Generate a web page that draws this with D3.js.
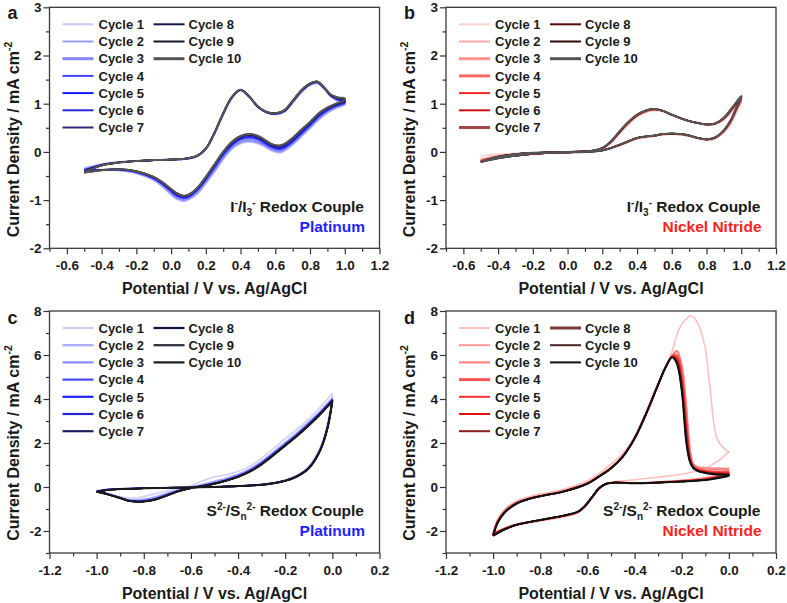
<!DOCTYPE html>
<html><head><meta charset="utf-8">
<script src="https://cdn.jsdelivr.net/npm/d3@7"></script>
<style>
body{margin:0;background:#fff}
svg{display:block}
text{font-family:"Liberation Sans",Arial,sans-serif;font-weight:bold;fill:#1a1a1a}
</style>
</head><body>
<svg id="chart" width="787" height="603"></svg>
<script>
// ---------------- DATA ----------------
const cycleLabels = ["Cycle 1","Cycle 2","Cycle 3","Cycle 4","Cycle 5","Cycle 6","Cycle 7","Cycle 8","Cycle 9","Cycle 10"];

// axis ticks
const ioXTicks = [-0.6,-0.4,-0.2,0.0,0.2,0.4,0.6,0.8,1.0,1.2];
const ioXMinor = [-0.7,-0.5,-0.3,-0.1,0.1,0.3,0.5,0.7,0.9,1.1];
const ioYTicks = [-2,-1,0,1,2,3];
const ioYMinor = [-1.5,-0.5,0.5,1.5,2.5];
const sXTicks = [-1.2,-1.0,-0.8,-0.6,-0.4,-0.2,0.0,0.2];
const sXMinor = [-1.1,-0.9,-0.7,-0.5,-0.3,-0.1,0.1];
const sYTicks = [-2,0,2,4,6,8];
const sYMinor = [-3,-1,1,3,5,7];

// ---- Panel a : I-/I3-, Platinum ----
const aPotF = [-0.5,-0.4,-0.3,-0.2,-0.1,0.0,0.1,0.15,0.2,0.25,0.3,0.35,0.4,0.45,0.5,0.55,0.6,0.65,0.7,0.75,0.8,0.84,0.88,0.92,0.96,1.0];
const aCurF = [
 [-0.33,-0.25,-0.21,-0.19,-0.17,-0.16,-0.14,-0.09,0.05,0.37,0.77,1.11,1.27,1.14,0.93,0.81,0.77,0.82,1.01,1.23,1.38,1.42,1.31,1.14,1.04,0.98],
 [-0.35,-0.26,-0.21,-0.19,-0.17,-0.16,-0.14,-0.09,0.05,0.38,0.78,1.12,1.28,1.14,0.93,0.82,0.78,0.83,1.02,1.24,1.39,1.43,1.32,1.15,1.06,1.00],
 [-0.36,-0.26,-0.21,-0.19,-0.17,-0.16,-0.14,-0.09,0.06,0.38,0.78,1.12,1.28,1.14,0.93,0.82,0.78,0.83,1.03,1.25,1.40,1.44,1.32,1.16,1.07,1.02],
 [-0.37,-0.27,-0.22,-0.19,-0.17,-0.16,-0.14,-0.09,0.06,0.39,0.79,1.13,1.28,1.14,0.93,0.82,0.79,0.84,1.04,1.26,1.40,1.44,1.33,1.16,1.08,1.04],
 [-0.38,-0.27,-0.22,-0.19,-0.17,-0.16,-0.13,-0.08,0.06,0.39,0.79,1.13,1.29,1.15,0.94,0.82,0.79,0.84,1.04,1.26,1.41,1.45,1.33,1.17,1.09,1.05],
 [-0.39,-0.27,-0.22,-0.19,-0.17,-0.16,-0.13,-0.08,0.07,0.40,0.80,1.13,1.29,1.15,0.94,0.83,0.79,0.85,1.05,1.27,1.41,1.45,1.33,1.17,1.10,1.07],
 [-0.40,-0.28,-0.22,-0.19,-0.17,-0.16,-0.13,-0.08,0.07,0.40,0.80,1.14,1.29,1.15,0.94,0.83,0.80,0.85,1.05,1.27,1.42,1.46,1.34,1.18,1.11,1.08],
 [-0.41,-0.28,-0.22,-0.19,-0.17,-0.16,-0.13,-0.08,0.07,0.40,0.80,1.14,1.29,1.15,0.94,0.83,0.80,0.86,1.06,1.28,1.42,1.46,1.34,1.18,1.12,1.09],
 [-0.41,-0.28,-0.22,-0.19,-0.17,-0.16,-0.13,-0.08,0.07,0.40,0.80,1.14,1.29,1.15,0.94,0.83,0.80,0.86,1.06,1.28,1.42,1.46,1.34,1.19,1.13,1.10],
 [-0.42,-0.28,-0.22,-0.19,-0.17,-0.16,-0.13,-0.08,0.07,0.40,0.80,1.14,1.29,1.15,0.94,0.83,0.80,0.86,1.06,1.28,1.42,1.46,1.34,1.19,1.13,1.11]
];
const aPotR = [1.0,0.95,0.9,0.85,0.8,0.75,0.7,0.65,0.62,0.58,0.54,0.5,0.45,0.4,0.35,0.3,0.25,0.2,0.15,0.1,0.07,0.03,0.0,-0.05,-0.1,-0.2,-0.3,-0.4,-0.5];
const aCurR = [
 [0.97,0.90,0.80,0.66,0.48,0.31,0.14,0.01,-0.02,0.02,0.10,0.17,0.20,0.17,0.05,-0.16,-0.42,-0.66,-0.88,-1.00,-1.03,-0.98,-0.89,-0.73,-0.59,-0.45,-0.39,-0.37,-0.34],
 [0.99,0.92,0.82,0.68,0.50,0.33,0.16,0.03,0.00,0.04,0.12,0.19,0.22,0.19,0.07,-0.14,-0.40,-0.64,-0.86,-0.98,-1.01,-0.96,-0.87,-0.71,-0.58,-0.44,-0.38,-0.37,-0.36],
 [1.00,0.93,0.84,0.70,0.52,0.35,0.18,0.05,0.02,0.06,0.14,0.21,0.25,0.21,0.10,-0.11,-0.37,-0.61,-0.83,-0.96,-0.99,-0.94,-0.85,-0.69,-0.57,-0.43,-0.38,-0.37,-0.37],
 [1.02,0.95,0.86,0.73,0.55,0.38,0.21,0.08,0.05,0.09,0.17,0.25,0.29,0.25,0.13,-0.07,-0.33,-0.58,-0.80,-0.94,-0.96,-0.91,-0.82,-0.67,-0.55,-0.42,-0.37,-0.37,-0.38],
 [1.03,0.96,0.88,0.75,0.57,0.40,0.23,0.10,0.07,0.11,0.20,0.28,0.32,0.28,0.16,-0.04,-0.30,-0.56,-0.78,-0.92,-0.94,-0.89,-0.80,-0.66,-0.54,-0.41,-0.37,-0.37,-0.39],
 [1.04,0.97,0.89,0.77,0.59,0.42,0.25,0.12,0.09,0.13,0.22,0.30,0.34,0.30,0.18,-0.02,-0.28,-0.54,-0.77,-0.91,-0.93,-0.87,-0.79,-0.65,-0.53,-0.41,-0.36,-0.38,-0.40],
 [1.05,0.98,0.90,0.78,0.60,0.44,0.27,0.14,0.11,0.14,0.23,0.31,0.35,0.31,0.19,-0.01,-0.27,-0.53,-0.76,-0.90,-0.92,-0.86,-0.78,-0.64,-0.52,-0.40,-0.36,-0.38,-0.41],
 [1.06,0.99,0.91,0.79,0.61,0.45,0.28,0.15,0.12,0.15,0.24,0.32,0.36,0.32,0.20,0.00,-0.26,-0.52,-0.75,-0.89,-0.91,-0.85,-0.77,-0.63,-0.52,-0.40,-0.36,-0.38,-0.42],
 [1.07,1.00,0.92,0.80,0.62,0.46,0.29,0.16,0.13,0.16,0.25,0.33,0.37,0.33,0.21,0.00,-0.26,-0.52,-0.75,-0.89,-0.91,-0.85,-0.77,-0.63,-0.52,-0.40,-0.36,-0.38,-0.43],
 [1.08,1.00,0.92,0.80,0.62,0.46,0.29,0.16,0.13,0.16,0.25,0.33,0.37,0.33,0.21,0.00,-0.26,-0.52,-0.75,-0.89,-0.91,-0.85,-0.77,-0.63,-0.52,-0.40,-0.36,-0.38,-0.43]
];

// ---- Panel b : I-/I3-, Nickel Nitride ----
const bPotF = [-0.5,-0.4,-0.3,-0.2,-0.1,0.0,0.1,0.15,0.2,0.25,0.3,0.35,0.4,0.45,0.5,0.55,0.6,0.65,0.7,0.75,0.8,0.85,0.9,0.95,1.0];
const bCurF = [
 [-0.08,-0.05,-0.03,-0.02,-0.01,0.00,0.01,0.02,0.06,0.18,0.38,0.57,0.73,0.82,0.86,0.84,0.77,0.70,0.64,0.60,0.57,0.58,0.66,0.85,1.05],
 [-0.15,-0.08,-0.04,-0.02,-0.01,0.00,0.01,0.02,0.06,0.19,0.39,0.58,0.74,0.83,0.87,0.85,0.77,0.70,0.64,0.60,0.57,0.58,0.67,0.87,1.08],
 [-0.17,-0.09,-0.04,-0.02,-0.01,0.00,0.01,0.02,0.07,0.20,0.40,0.59,0.75,0.84,0.87,0.85,0.77,0.70,0.64,0.60,0.57,0.58,0.68,0.88,1.10],
 [-0.18,-0.09,-0.05,-0.02,-0.01,0.00,0.01,0.02,0.07,0.20,0.40,0.60,0.75,0.84,0.88,0.85,0.77,0.70,0.64,0.60,0.57,0.58,0.69,0.89,1.11],
 [-0.19,-0.10,-0.05,-0.02,-0.01,0.00,0.01,0.03,0.07,0.21,0.41,0.60,0.76,0.85,0.88,0.85,0.77,0.70,0.64,0.60,0.57,0.59,0.69,0.90,1.12],
 [-0.20,-0.10,-0.05,-0.02,-0.01,0.00,0.01,0.03,0.08,0.21,0.42,0.61,0.76,0.85,0.88,0.85,0.77,0.70,0.64,0.60,0.57,0.59,0.70,0.91,1.13],
 [-0.20,-0.10,-0.05,-0.02,-0.01,0.00,0.01,0.03,0.08,0.21,0.42,0.61,0.76,0.85,0.89,0.85,0.77,0.70,0.64,0.60,0.57,0.59,0.70,0.91,1.14],
 [-0.21,-0.10,-0.05,-0.02,-0.01,0.00,0.01,0.03,0.08,0.22,0.42,0.62,0.77,0.86,0.89,0.85,0.77,0.70,0.64,0.60,0.57,0.59,0.70,0.92,1.15],
 [-0.21,-0.10,-0.05,-0.02,-0.01,0.00,0.01,0.03,0.08,0.22,0.43,0.62,0.77,0.86,0.89,0.85,0.77,0.70,0.64,0.60,0.57,0.59,0.71,0.92,1.15],
 [-0.21,-0.10,-0.05,-0.02,-0.01,0.00,0.01,0.03,0.08,0.22,0.43,0.62,0.77,0.86,0.89,0.85,0.77,0.70,0.64,0.60,0.57,0.59,0.71,0.93,1.16]
];
const bPotR = [1.0,0.97,0.94,0.9,0.85,0.8,0.75,0.7,0.65,0.6,0.55,0.5,0.45,0.4,0.35,0.3,0.25,0.2,0.1,0.0,-0.1,-0.2,-0.3,-0.4,-0.5];
const bCurR = [
 [1.03,0.80,0.58,0.40,0.28,0.25,0.28,0.32,0.35,0.36,0.35,0.32,0.30,0.27,0.20,0.13,0.07,0.03,0.00,-0.01,-0.02,-0.03,-0.04,-0.06,-0.08],
 [1.06,0.83,0.60,0.41,0.28,0.25,0.28,0.33,0.36,0.37,0.36,0.33,0.31,0.28,0.21,0.14,0.07,0.03,0.00,-0.01,-0.02,-0.03,-0.06,-0.10,-0.15],
 [1.08,0.85,0.62,0.42,0.29,0.25,0.28,0.33,0.36,0.37,0.36,0.33,0.31,0.28,0.21,0.14,0.08,0.03,0.00,-0.01,-0.02,-0.04,-0.07,-0.11,-0.17],
 [1.09,0.86,0.63,0.43,0.29,0.26,0.29,0.33,0.36,0.37,0.36,0.33,0.31,0.28,0.21,0.14,0.08,0.03,0.00,-0.01,-0.02,-0.04,-0.07,-0.12,-0.18],
 [1.10,0.87,0.64,0.44,0.30,0.26,0.29,0.34,0.37,0.38,0.37,0.34,0.32,0.29,0.22,0.15,0.08,0.03,0.00,-0.01,-0.02,-0.04,-0.07,-0.12,-0.19],
 [1.11,0.88,0.65,0.44,0.30,0.26,0.29,0.34,0.37,0.38,0.37,0.34,0.32,0.29,0.22,0.15,0.08,0.03,0.00,-0.01,-0.02,-0.04,-0.08,-0.12,-0.20],
 [1.12,0.89,0.65,0.45,0.30,0.26,0.29,0.34,0.37,0.38,0.37,0.34,0.32,0.29,0.22,0.15,0.08,0.03,0.00,-0.01,-0.02,-0.04,-0.08,-0.13,-0.20],
 [1.13,0.89,0.66,0.45,0.30,0.26,0.29,0.34,0.37,0.38,0.37,0.34,0.32,0.29,0.22,0.15,0.08,0.03,0.00,-0.01,-0.02,-0.04,-0.08,-0.13,-0.21],
 [1.14,0.90,0.66,0.45,0.30,0.26,0.29,0.34,0.37,0.38,0.37,0.34,0.32,0.29,0.22,0.15,0.08,0.03,0.00,-0.01,-0.02,-0.04,-0.08,-0.13,-0.21],
 [1.14,0.90,0.66,0.45,0.30,0.26,0.29,0.34,0.37,0.38,0.37,0.34,0.32,0.29,0.22,0.15,0.08,0.03,0.00,-0.01,-0.02,-0.04,-0.08,-0.13,-0.21]
];

// ---- Panel c : S2-/Sn2-, Platinum ----
const cPotF = [-1.0,-0.95,-0.9,-0.8,-0.7,-0.6,-0.5,-0.4,-0.3,-0.25,-0.2,-0.15,-0.1,-0.05,-0.02,0.0];
const cCurF = [
 [-0.16,-0.10,-0.07,-0.05,-0.03,-0.01,0.01,0.05,0.12,0.20,0.32,0.55,0.95,1.85,2.95,4.25],
 [-0.18,-0.11,-0.08,-0.05,-0.03,-0.01,0.01,0.05,0.11,0.19,0.30,0.52,0.90,1.78,2.82,4.05],
 [-0.19,-0.12,-0.08,-0.06,-0.04,-0.02,0.00,0.04,0.11,0.18,0.29,0.50,0.88,1.75,2.78,4.00],
 [-0.20,-0.12,-0.08,-0.06,-0.04,-0.02,0.00,0.04,0.10,0.18,0.29,0.49,0.87,1.73,2.75,3.97],
 [-0.21,-0.12,-0.09,-0.06,-0.04,-0.02,0.00,0.04,0.10,0.17,0.28,0.49,0.86,1.72,2.73,3.95],
 [-0.21,-0.13,-0.09,-0.06,-0.04,-0.02,0.00,0.04,0.10,0.17,0.28,0.48,0.86,1.71,2.72,3.93],
 [-0.22,-0.13,-0.09,-0.06,-0.04,-0.02,0.00,0.04,0.10,0.17,0.28,0.48,0.85,1.71,2.71,3.92],
 [-0.22,-0.13,-0.09,-0.06,-0.04,-0.02,0.00,0.04,0.10,0.17,0.28,0.48,0.85,1.70,2.71,3.91],
 [-0.22,-0.13,-0.09,-0.06,-0.04,-0.02,0.00,0.04,0.10,0.17,0.28,0.48,0.85,1.70,2.70,3.90],
 [-0.22,-0.13,-0.09,-0.06,-0.04,-0.02,0.00,0.04,0.10,0.17,0.28,0.48,0.85,1.70,2.70,3.90]
];
const cPotR = [0.0,-0.05,-0.1,-0.15,-0.2,-0.25,-0.3,-0.35,-0.4,-0.45,-0.5,-0.55,-0.6,-0.65,-0.7,-0.75,-0.8,-0.83,-0.87,-0.9,-0.95,-1.0];
const cCurR = [
 [4.25,3.65,3.10,2.62,2.20,1.75,1.32,0.95,0.72,0.56,0.46,0.28,0.06,-0.08,-0.18,-0.30,-0.43,-0.49,-0.50,-0.44,-0.29,-0.16],
 [4.05,3.48,2.96,2.47,2.03,1.60,1.18,0.83,0.58,0.40,0.26,0.12,0.00,-0.13,-0.28,-0.44,-0.55,-0.58,-0.57,-0.48,-0.32,-0.18],
 [4.00,3.42,2.90,2.41,1.97,1.54,1.12,0.78,0.53,0.35,0.21,0.08,-0.02,-0.15,-0.32,-0.50,-0.60,-0.62,-0.59,-0.49,-0.33,-0.19],
 [3.97,3.39,2.87,2.38,1.94,1.51,1.09,0.75,0.50,0.32,0.18,0.06,-0.03,-0.16,-0.34,-0.53,-0.63,-0.65,-0.60,-0.50,-0.34,-0.20],
 [3.95,3.37,2.85,2.36,1.92,1.49,1.07,0.73,0.49,0.31,0.17,0.05,-0.04,-0.17,-0.36,-0.55,-0.64,-0.66,-0.61,-0.50,-0.34,-0.21],
 [3.93,3.35,2.83,2.35,1.90,1.47,1.05,0.72,0.48,0.30,0.16,0.05,-0.04,-0.17,-0.37,-0.56,-0.65,-0.66,-0.61,-0.50,-0.34,-0.21],
 [3.92,3.34,2.82,2.34,1.89,1.46,1.04,0.71,0.47,0.30,0.16,0.04,-0.05,-0.18,-0.37,-0.56,-0.66,-0.67,-0.61,-0.50,-0.34,-0.22],
 [3.91,3.33,2.81,2.33,1.89,1.46,1.04,0.71,0.47,0.29,0.15,0.04,-0.05,-0.18,-0.38,-0.57,-0.66,-0.67,-0.61,-0.50,-0.34,-0.22],
 [3.90,3.32,2.80,2.32,1.88,1.45,1.03,0.70,0.46,0.29,0.15,0.04,-0.05,-0.18,-0.38,-0.57,-0.66,-0.67,-0.61,-0.50,-0.34,-0.22],
 [3.90,3.32,2.80,2.32,1.88,1.45,1.03,0.70,0.46,0.29,0.15,0.04,-0.05,-0.18,-0.38,-0.57,-0.66,-0.67,-0.61,-0.50,-0.34,-0.22]
];

// ---- Panel d : S2-/Sn2-, Nickel Nitride ----
const dPotF = [-1.0,-0.98,-0.95,-0.9,-0.85,-0.8,-0.7,-0.6,-0.55,-0.5,-0.45,-0.4,-0.35,-0.3,-0.27,-0.24,-0.22,-0.2,-0.18,-0.165,-0.15,-0.13,-0.1,-0.08,-0.05,-0.02,0.0];
const dCurF = [
 [-2.05,-1.45,-1.00,-0.62,-0.45,-0.32,-0.10,0.28,0.62,1.05,1.52,2.30,3.45,4.75,5.40,6.20,6.95,7.40,7.65,7.78,7.72,7.40,6.30,4.50,2.20,1.75,1.60],
 [-2.10,-1.50,-1.05,-0.68,-0.50,-0.38,-0.16,0.20,0.52,0.90,1.42,2.25,3.40,4.70,5.45,6.00,6.20,5.60,3.70,1.80,1.05,0.92,0.88,0.87,0.86,0.85,0.85],
 [-2.12,-1.52,-1.08,-0.70,-0.52,-0.40,-0.18,0.18,0.50,0.88,1.40,2.23,3.38,4.68,5.43,5.98,6.15,5.50,3.50,1.65,1.00,0.88,0.83,0.81,0.80,0.79,0.78],
 [-2.14,-1.54,-1.10,-0.72,-0.53,-0.41,-0.19,0.17,0.49,0.87,1.39,2.22,3.37,4.67,5.42,5.96,6.00,5.20,3.10,1.45,0.95,0.82,0.76,0.73,0.71,0.70,0.69],
 [-2.16,-1.56,-1.12,-0.73,-0.54,-0.41,-0.19,0.16,0.49,0.86,1.39,2.21,3.36,4.66,5.41,5.94,5.90,5.00,2.80,1.35,0.92,0.79,0.72,0.69,0.67,0.66,0.65],
 [-2.18,-1.57,-1.13,-0.74,-0.54,-0.42,-0.20,0.16,0.48,0.86,1.38,2.21,3.36,4.66,5.41,5.93,5.80,4.80,2.50,1.28,0.89,0.76,0.69,0.66,0.63,0.62,0.61],
 [-2.19,-1.58,-1.14,-0.74,-0.55,-0.42,-0.20,0.15,0.48,0.85,1.38,2.20,3.35,4.65,5.40,5.92,5.72,4.65,2.30,1.22,0.87,0.74,0.67,0.63,0.60,0.59,0.58],
 [-2.20,-1.59,-1.14,-0.75,-0.55,-0.42,-0.20,0.15,0.48,0.85,1.38,2.20,3.35,4.65,5.40,5.91,5.66,4.55,2.15,1.18,0.86,0.73,0.65,0.62,0.58,0.57,0.56],
 [-2.21,-1.60,-1.15,-0.75,-0.55,-0.42,-0.20,0.15,0.48,0.85,1.38,2.20,3.35,4.65,5.40,5.90,5.62,4.45,2.05,1.16,0.85,0.72,0.64,0.61,0.57,0.56,0.55],
 [-2.22,-1.60,-1.15,-0.75,-0.55,-0.42,-0.20,0.15,0.48,0.85,1.38,2.20,3.35,4.65,5.40,5.90,5.60,4.40,2.00,1.15,0.85,0.72,0.64,0.60,0.57,0.56,0.55]
];
const dPotR = [0.0,-0.05,-0.1,-0.2,-0.3,-0.4,-0.45,-0.48,-0.52,-0.55,-0.58,-0.61,-0.64,-0.7,-0.8,-0.9,-0.95,-1.0];
const dCurR = [
 [1.60,1.15,0.85,0.58,0.45,0.33,0.28,0.25,0.15,-0.08,-0.50,-0.90,-1.18,-1.36,-1.55,-1.72,-1.88,-2.05],
 [0.85,0.55,0.42,0.30,0.23,0.19,0.21,0.21,0.14,-0.08,-0.50,-0.90,-1.16,-1.33,-1.52,-1.70,-1.86,-2.10],
 [0.78,0.52,0.40,0.29,0.22,0.18,0.20,0.21,0.14,-0.07,-0.49,-0.89,-1.15,-1.32,-1.51,-1.70,-1.88,-2.12],
 [0.69,0.48,0.37,0.27,0.21,0.18,0.20,0.20,0.15,-0.06,-0.47,-0.88,-1.14,-1.31,-1.51,-1.71,-1.89,-2.14],
 [0.65,0.46,0.35,0.26,0.21,0.17,0.19,0.20,0.15,-0.06,-0.46,-0.87,-1.13,-1.31,-1.50,-1.71,-1.90,-2.16],
 [0.61,0.44,0.34,0.26,0.20,0.17,0.19,0.20,0.15,-0.05,-0.46,-0.86,-1.13,-1.30,-1.50,-1.72,-1.91,-2.18],
 [0.58,0.43,0.33,0.25,0.20,0.17,0.19,0.20,0.15,-0.05,-0.45,-0.86,-1.12,-1.30,-1.50,-1.72,-1.91,-2.19],
 [0.56,0.42,0.33,0.25,0.20,0.17,0.19,0.20,0.15,-0.05,-0.45,-0.85,-1.12,-1.30,-1.50,-1.72,-1.92,-2.20],
 [0.55,0.41,0.32,0.25,0.20,0.17,0.19,0.20,0.15,-0.05,-0.45,-0.85,-1.12,-1.30,-1.50,-1.72,-1.92,-2.21],
 [0.52,0.40,0.32,0.25,0.20,0.17,0.19,0.20,0.15,-0.05,-0.45,-0.85,-1.12,-1.30,-1.50,-1.72,-1.92,-2.22]
];

// ---------------- STYLES ----------------
const aColors = ["#c8c8f5","#9c9cff","#8585ff","#4040ff","#1515ff","#2a2ad8","#2c2c7a","#161650","#181828","#555555"];
const bColors = ["#ffd2d2","#ffa8a8","#ff9090","#ff6868","#ff2424","#cc1010","#a04848","#580808","#2a0808","#555555"];
const cColors = ["#d0d0fa","#a8a8ff","#8a8aff","#4a4aff","#2020ff","#2525d0","#1e1e60","#101040","#2a2a38","#1a1a1a"];
const dColors = ["#ffc0c0","#ff9a9a","#ff7a7a","#ff5555","#ff3030","#e01010","#8a2020","#7a3a3a","#4a2525","#111111"];
const aLegW = [2,2,3,2,2,2,2,2,2,3];
const bLegW = [2,2,3,3,2,2,3,2,2,3];
const cLegW = [2.2,2.2,2.2,2.2,2.2,2.2,2.2,2.2,2.2,2.2];
const dLegW = [2,2,2,3,2,2,2,3,2,2];

const panels = [
 {letter:"a", left:49.5, top:7.3, w:330, h:241, xDom:[-0.7,1.2], yDom:[-2,3], xT:ioXTicks, xM:ioXMinor, yT:ioYTicks, yM:ioYMinor,
  potF:aPotF, curF:aCurF, potR:aPotR, curR:aCurR, colors:aColors, legW:aLegW, couple:"io", mat:"Platinum", matColor:"#1f1fff"},
 {letter:"b", left:446, top:7.3, w:330, h:241, xDom:[-0.7,1.2], yDom:[-2,3], xT:ioXTicks, xM:ioXMinor, yT:ioYTicks, yM:ioYMinor,
  potF:bPotF, curF:bCurF, potR:bPotR, curR:bCurR, colors:bColors, legW:bLegW, couple:"io", mat:"Nickel Nitride", matColor:"#ff1f1f"},
 {letter:"c", left:49.5, top:311, w:330, h:242, xDom:[-1.2,0.2], yDom:[-3,8], xT:sXTicks, xM:sXMinor, yT:sYTicks, yM:sYMinor,
  potF:cPotF, curF:cCurF, potR:cPotR, curR:cCurR, colors:cColors, legW:cLegW, couple:"s", mat:"Platinum", matColor:"#1f1fff"},
 {letter:"d", left:446, top:311, w:330, h:242, xDom:[-1.2,0.2], yDom:[-3,8], xT:sXTicks, xM:sXMinor, yT:sYTicks, yM:sYMinor,
  potF:dPotF, curF:dCurF, potR:dPotR, curR:dCurR, colors:dColors, legW:dLegW, couple:"s", mat:"Nickel Nitride", matColor:"#ff1f1f"}
];

// ---------------- DRAW ----------------
const svg = d3.select("#chart");
const fmtX = d => d.toFixed(1);
const fmtY = d => String(d);

panels.forEach(p => {
  const x = d3.scaleLinear().domain(p.xDom).range([p.left, p.left + p.w]);
  const y = d3.scaleLinear().domain(p.yDom).range([p.top + p.h, p.top]);
  const g = svg.append("g");

  // minor ticks
  g.append("g").attr("transform", `translate(0,${p.top + p.h})`)
    .call(d3.axisBottom(x).tickValues(p.xM).tickSize(3.5).tickFormat(""))
    .call(s => s.select(".domain").remove());
  g.append("g").attr("transform", `translate(${p.left},0)`)
    .call(d3.axisLeft(y).tickValues(p.yM).tickSize(3.5).tickFormat(""))
    .call(s => s.select(".domain").remove());
  // major ticks
  const xa = g.append("g").attr("transform", `translate(0,${p.top + p.h})`)
    .call(d3.axisBottom(x).tickValues(p.xT).tickSize(6).tickPadding(6).tickFormat(fmtX));
  const ya = g.append("g").attr("transform", `translate(${p.left},0)`)
    .call(d3.axisLeft(y).tickValues(p.yT).tickSize(6).tickPadding(2).tickFormat(fmtY));
  [xa, ya].forEach(a => {
    a.select(".domain").remove();
    a.selectAll("text").attr("font-size", 13.5).attr("font-family", "Liberation Sans, Arial, sans-serif").attr("font-weight", "bold").attr("fill", "#1a1a1a");
  });
  g.selectAll(".tick line").attr("stroke", "#333").attr("stroke-width", 1.2);

  // frame
  g.append("rect").attr("x", p.left).attr("y", p.top).attr("width", p.w).attr("height", p.h)
    .attr("fill", "none").attr("stroke", "#3a3a3a").attr("stroke-width", 1.3);

  // curves
  const line = d3.line().x(d => x(d[0])).y(d => y(d[1])).curve(d3.curveCatmullRom.alpha(0.5));
  p.curF.forEach((cf, i) => {
    const pts = p.potF.map((v, j) => [v, cf[j]]).concat(p.potR.map((v, j) => [v, p.curR[i][j]]));
    g.append("path").attr("d", line(pts)).attr("fill", "none")
      .attr("stroke", p.colors[i]).attr("stroke-width", i === 9 ? 2 : 1.6).attr("stroke-linejoin", "round");
  });

  // legend
  cycleLabels.forEach((lab, i) => {
    const col = i < 7 ? 0 : 1, row = i < 7 ? i : i - 7;
    const ly = p.top + 17 + row * 17.2;
    const lx0 = p.left + (col ? 104 : 13), lx1 = p.left + (col ? 135 : 44);
    g.append("line").attr("x1", lx0).attr("x2", lx1).attr("y1", ly).attr("y2", ly)
      .attr("stroke", p.colors[i]).attr("stroke-width", p.legW[i]);
    g.append("text").attr("x", p.left + (col ? 139 : 49)).attr("y", ly + 4.7)
      .attr("font-size", 13).text(lab);
  });

  // panel letter
  svg.append("text").attr("x", p.left - 42).attr("y", p.top + (p.top > 100 ? 12.5 : 11.5))
    .attr("font-size", 18).text(p.letter);

  // axis titles
  svg.append("text").attr("x", p.left + p.w / 2).attr("y", p.top + p.h + 45.5)
    .attr("text-anchor", "middle").attr("font-size", 16).text("Potential / V vs. Ag/AgCl");
  const yt = svg.append("text").attr("transform", `translate(${p.left - 31},${p.top + (p.h > 241.5 ? 132 : 132.2)}) rotate(-90)`)
    .attr("text-anchor", "middle").attr("font-size", 16);
  yt.append("tspan").text("Current Density / mA cm");
  yt.append("tspan").attr("font-size", 10.5).attr("dy", -7).text("-2");

  // annotation
  const ax = p.left + p.w - 15.5;
  const t1 = svg.append("text").attr("x", ax).attr("y", p.top + 204.5).attr("text-anchor", "end").attr("font-size", 15.5);
  if (p.couple === "io") {
    t1.append("tspan").text("I");
    t1.append("tspan").attr("font-size", 10).attr("dy", -6).text("-");
    t1.append("tspan").attr("dy", 6).text("/I");
    t1.append("tspan").attr("font-size", 10).attr("dy", 4).text("3");
    t1.append("tspan").attr("font-size", 10).attr("dy", -10).text("-");
    t1.append("tspan").attr("dy", 6).text(" Redox Couple");
  } else {
    t1.append("tspan").text("S");
    t1.append("tspan").attr("font-size", 10).attr("dy", -6).text("2-");
    t1.append("tspan").attr("dy", 6).text("/S");
    t1.append("tspan").attr("font-size", 10).attr("dy", 4).text("n");
    t1.append("tspan").attr("font-size", 10).attr("dy", -10).text("2-");
    t1.append("tspan").attr("dy", 6).text(" Redox Couple");
  }
  svg.append("text").attr("x", ax + 1).attr("y", p.top + 224.5).attr("text-anchor", "end")
    .attr("font-size", 15.5).style("fill", p.matColor).text(p.mat);
});
</script>
</body></html>
